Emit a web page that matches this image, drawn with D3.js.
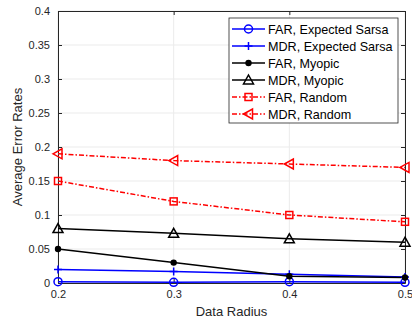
<!DOCTYPE html>
<html>
<head>
<meta charset="utf-8">
<script src="https://cdn.jsdelivr.net/npm/d3@7"></script>
<style>
  body { margin: 0; background: #fff; }
  text { font-family: "Liberation Sans", Arial, sans-serif; fill: #262626; }
</style>
</head>
<body>
<div id="chart"></div>
<script>
// data
const radius = [0.2, 0.3, 0.4, 0.5];
const farSarsa = [0.002, 0.001, 0.002, 0.001];
const mdrSarsa = [0.02, 0.017, 0.013, 0.009];
const farMyopic = [0.05, 0.03, 0.01, 0.008];
const mdrMyopic = [0.08, 0.073, 0.065, 0.06];
const farRandom = [0.15, 0.12, 0.10, 0.09];
const mdrRandom = [0.19, 0.18, 0.175, 0.17];
const xTicks = [0.2, 0.3, 0.4, 0.5];
const yTicks = [0, 0.05, 0.1, 0.15, 0.2, 0.25, 0.3, 0.35, 0.4];

const series = [
  {name: "FAR, Expected Sarsa", values: farSarsa, color: "#0000ff", dash: null, marker: "circle"},
  {name: "MDR, Expected Sarsa", values: mdrSarsa, color: "#0000ff", dash: null, marker: "plus"},
  {name: "FAR, Myopic", values: farMyopic, color: "#000000", dash: null, marker: "dot"},
  {name: "MDR, Myopic", values: mdrMyopic, color: "#000000", dash: null, marker: "triangle"},
  {name: "FAR, Random", values: farRandom, color: "#ff0000", dash: "5,2,1.5,2", marker: "square"},
  {name: "MDR, Random", values: mdrRandom, color: "#ff0000", dash: "5,2,1.5,2", marker: "tri-left"}
];

const W = 412, H = 320;
const margin = {top: 11, right: 7, bottom: 37, left: 58};
const width = W - margin.left - margin.right,
      height = H - margin.top - margin.bottom;

const svg = d3.select("#chart").append("svg")
  .attr("width", W).attr("height", H)
  .append("g")
  .attr("transform", `translate(${margin.left}, ${margin.top})`);

const x = d3.scaleLinear().domain([0.2, 0.5]).range([0, width]);
const y = d3.scaleLinear().domain([0, 0.4]).range([height, 0]);

// grid
svg.append("g").selectAll("line.gy")
  .data(yTicks).join("line")
  .attr("x1", 0).attr("x2", width)
  .attr("y1", d => y(d)).attr("y2", d => y(d))
  .attr("stroke", "#ebebeb").attr("stroke-width", 1);
svg.append("g").selectAll("line.gx")
  .data(xTicks).join("line")
  .attr("y1", 0).attr("y2", height)
  .attr("x1", d => x(d)).attr("x2", d => x(d))
  .attr("stroke", "#ebebeb").attr("stroke-width", 1);

// axes (ticks inward)
const fmt = d => d3.format("~g")(d);
svg.append("g").attr("transform", `translate(0, ${height})`)
  .call(d3.axisBottom(x).tickValues(xTicks).tickFormat(fmt).tickSizeInner(-4).tickSizeOuter(0).tickPadding(7));
svg.append("g")
  .call(d3.axisLeft(y).tickValues(yTicks).tickFormat(fmt).tickSizeInner(-4).tickSizeOuter(0).tickPadding(8));
svg.append("g")
  .call(d3.axisTop(x).tickValues(xTicks).tickFormat("").tickSizeInner(-4).tickSizeOuter(0));
svg.append("g").attr("transform", `translate(${width}, 0)`)
  .call(d3.axisRight(y).tickValues(yTicks).tickFormat("").tickSizeInner(-4).tickSizeOuter(0));
svg.selectAll(".domain").attr("stroke", "#262626");
svg.selectAll(".tick line").attr("stroke", "#262626");
svg.selectAll(".tick text").attr("font-size", 11).style("fill", "#262626");

// lines
const line = d3.line().x((d, i) => x(radius[i])).y(d => y(d));
const lines = svg.append("g");
series.forEach(s => {
  lines.append("path")
    .datum(s.values)
    .attr("d", line)
    .attr("fill", "none")
    .attr("stroke", s.color)
    .attr("stroke-width", 1.5)
    .attr("stroke-dasharray", s.dash);
});

function drawMarker(g, type, cx, cy, color) {
  if (type === "circle") {
    g.append("circle").attr("cx", cx).attr("cy", cy).attr("r", 4)
      .attr("fill", "none").attr("stroke", color).attr("stroke-width", 1.5);
  } else if (type === "plus") {
    g.append("path").attr("d", `M${cx-4},${cy}H${cx+4}M${cx},${cy-4}V${cy+4}`)
      .attr("stroke", color).attr("stroke-width", 1.5);
  } else if (type === "dot") {
    g.append("circle").attr("cx", cx).attr("cy", cy).attr("r", 3.2).attr("fill", color);
  } else if (type === "triangle") {
    g.append("path").attr("d", `M${cx},${cy-5}L${cx+5},${cy+4}L${cx-5},${cy+4}Z`)
      .attr("fill", "none").attr("stroke", color).attr("stroke-width", 1.5);
  } else if (type === "square") {
    g.append("rect").attr("x", cx-3.5).attr("y", cy-3.5).attr("width", 7).attr("height", 7)
      .attr("fill", "none").attr("stroke", color).attr("stroke-width", 1.5);
  } else if (type === "tri-left") {
    g.append("path").attr("d", `M${cx-5},${cy}L${cx+4},${cy-5}L${cx+4},${cy+5}Z`)
      .attr("fill", "none").attr("stroke", color).attr("stroke-width", 1.5);
  }
}

const marks = svg.append("g");
series.forEach(s => {
  s.values.forEach((v, i) => drawMarker(marks, s.marker, x(radius[i]), y(v), s.color));
});

// axis titles
svg.append("text")
  .attr("x", width / 2).attr("y", height + 33)
  .attr("text-anchor", "middle").attr("font-size", 13)
  .text("Data Radius");
svg.append("text")
  .attr("transform", `translate(${-36}, ${height / 2}) rotate(-90)`)
  .attr("text-anchor", "middle").attr("font-size", 13)
  .text("Average Error Rates");

// legend
const lg = svg.append("g").attr("transform", `translate(${229 - margin.left}, ${18 - margin.top})`);
lg.append("rect").attr("width", 169).attr("height", 105)
  .attr("fill", "#fff").attr("stroke", "#262626").attr("stroke-width", 0.8);
series.forEach((s, i) => {
  const cy = 11 + i * 17;
  lg.append("line").attr("x1", 3).attr("x2", 36).attr("y1", cy).attr("y2", cy)
    .attr("stroke", s.color).attr("stroke-width", 1.5).attr("stroke-dasharray", s.dash);
  drawMarker(lg, s.marker, 19.5, cy, s.color);
  lg.append("text").attr("x", 39).attr("y", cy + 4.5)
    .attr("font-size", 12.6).style("fill", "#000").text(s.name);
});
</script>
</body>
</html>
